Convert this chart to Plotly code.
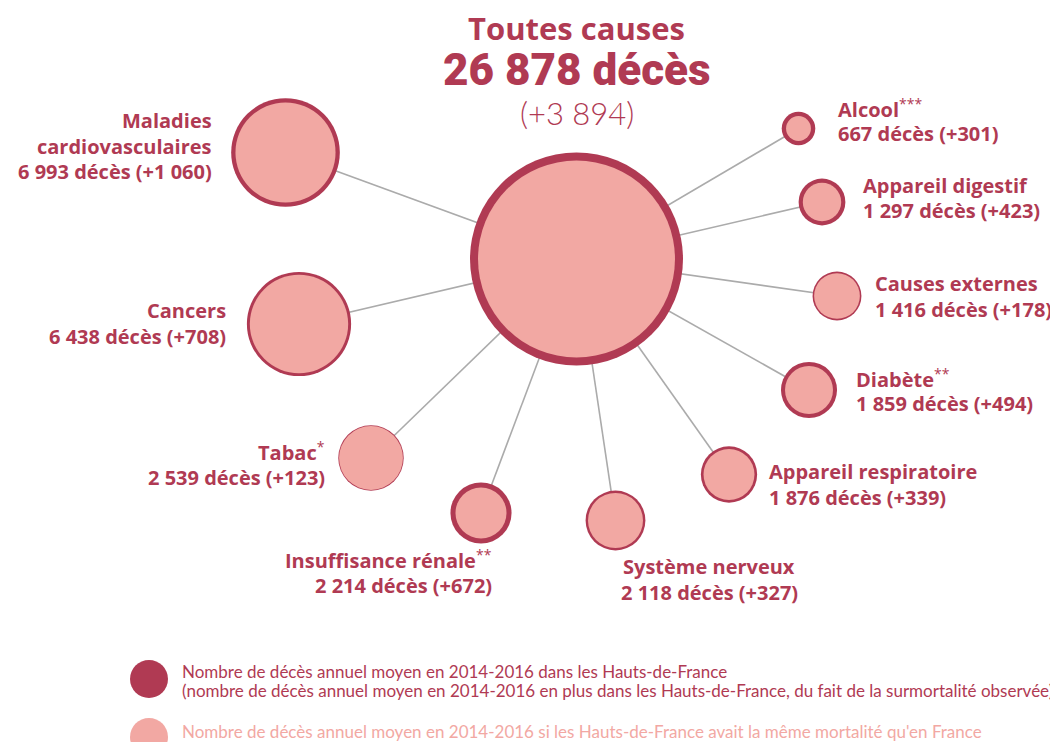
import plotly.graph_objects as go
import numpy as np

# ---------------- data ----------------
total_deces = 26878
total_surplus = 3894

categories = ["Maladies cardiovasculaires", "Cancers", "Tabac", "Insuffisance rénale",
              "Système nerveux", "Appareil respiratoire", "Diabète", "Causes externes",
              "Appareil digestif", "Alcool"]
deces = [6993, 6438, 2539, 2214, 2118, 1876, 1859, 1416, 1297, 667]
surplus = [1060, 708, 123, 672, 327, 339, 494, 178, 423, 301]
notes = ["", "", "*", "**", "", "", "**", "", "", "***"]

legend_texts = [
    "Nombre de décès annuel moyen en 2014-2016 dans les Hauts-de-France",
    "(nombre de décès annuel moyen en 2014-2016 en plus dans les Hauts-de-France, du fait de la surmortalité observée)",
    "Nombre de décès annuel moyen en 2014-2016 si les Hauts-de-France avait la même mortalité qu'en France",
]

# ---------------- layout (positions / styles) ----------------
W, H = 1058, 742      # browser window
OFF = 8               # default page body margin
DARK = "#B03A53"
LIGHT = "#F2A8A3"
LINE = "#ABABAB"
K = 106.5 / np.sqrt(total_deces)   # px radius per sqrt(death)

center_xy = (576.5, 259)
bubble_xy = [(285.5, 152.5), (299, 324), (371, 458), (481, 513), (615.5, 520.5),
             (729, 474.5), (809, 390), (837, 296), (822, 202), (798.5, 128.5)]
# label: x, list of line-center y, anchor, wrap name
label_pos = [
    (214, [120, 146, 171], "right", True),
    (228, [310, 336], "right", False),
    (327, [451, 477], "right", False),
    (494, [559, 585], "right", False),
    (709, [566, 592], "center", False),
    (767, [471, 497], "left", False),
    (854, [378, 403], "left", False),
    (873, [283, 309], "left", False),
    (861, [185, 210], "left", False),
    (836, [108, 133], "left", False),
]

LABEL_FONT = "Open Sans, Lato, sans-serif"
BIG_FONT = "Roboto, Open Sans, sans-serif"


def fmt(n):
    return f"{n:,}".replace(",", " ")


fig = go.Figure()

# connecting lines (under the bubbles)
for (bx, by) in bubble_xy:
    fig.add_trace(go.Scatter(x=[center_xy[0], bx], y=[center_xy[1], by], mode="lines",
                             line=dict(color=LINE, width=1.6), hoverinfo="skip"))

all_x = [center_xy[0]] + [p[0] for p in bubble_xy]
all_y = [center_xy[1]] + [p[1] for p in bubble_xy]
all_d = [total_deces] + deces
all_s = [total_surplus] + surplus
expected = [d - s for d, s in zip(all_d, all_s)]

# observed deaths (dark)
fig.add_trace(go.Scatter(
    x=all_x, y=all_y, mode="markers",
    marker=dict(size=[2 * K * np.sqrt(d) for d in all_d], color=DARK, line=dict(width=0), opacity=1),
    hoverinfo="skip"))
# expected deaths (light)
fig.add_trace(go.Scatter(
    x=all_x, y=all_y, mode="markers",
    marker=dict(size=[2 * K * np.sqrt(e) for e in expected], color=LIGHT, line=dict(width=0), opacity=1),
    hoverinfo="skip"))

# legend bubbles
fig.add_trace(go.Scatter(x=[149], y=[679], mode="markers",
                         marker=dict(size=38, color=DARK, line=dict(width=0), opacity=1),
                         hoverinfo="skip"))
fig.add_trace(go.Scatter(x=[149], y=[737], mode="markers",
                         marker=dict(size=38, color=LIGHT, line=dict(width=0), opacity=1),
                         hoverinfo="skip"))

annotations = []
# title
annotations.append(dict(x=576.5, y=28, text="<b>Toutes causes</b>", showarrow=False,
                        xanchor="center", yanchor="middle",
                        font=dict(family=LABEL_FONT, size=31, color=DARK)))
annotations.append(dict(x=576.5, y=70, text=fmt(total_deces) + " décès", showarrow=False,
                        xanchor="center", yanchor="middle",
                        font=dict(family=BIG_FONT, size=44, color=DARK, weight=900)))
annotations.append(dict(x=576.5, y=113, text="(+" + fmt(total_surplus) + ")", showarrow=False,
                        xanchor="center", yanchor="middle",
                        font=dict(family="Lato, sans-serif", size=31, color=DARK, weight=300)))

# category labels
for name, d, s, nt, (lx, ys, anc, wrap) in zip(categories, deces, surplus, notes, label_pos):
    sup = f"<sup>{nt}</sup>" if nt else ""
    if wrap:
        first, rest = name.split(" ", 1)
        lines = [f"<b>{first}</b>", f"<b>{rest}</b>{sup}"]
    else:
        lines = [f"<b>{name}</b>{sup}"]
    lines.append(f"<b>{fmt(d)} décès (+{fmt(s)})</b>")
    for t, y in zip(lines, ys):
        annotations.append(dict(x=lx, y=y, text=t, showarrow=False, xanchor=anc, yanchor="middle",
                                align=anc, font=dict(family=LABEL_FONT, size=20, color=DARK)))

# legend texts
for t, y, c in zip(legend_texts, [671, 690, 731], [DARK, DARK, LIGHT]):
    annotations.append(dict(x=180, y=y, text=t, showarrow=False, xanchor="left", yanchor="middle",
                            font=dict(family="Lato, sans-serif", size=17, color=c)))

fig.update_layout(
    width=W - OFF, height=H - OFF, margin=dict(l=0, r=0, t=0, b=0),
    paper_bgcolor="white", plot_bgcolor="white", showlegend=False,
    xaxis=dict(range=[OFF, W], visible=False, fixedrange=True),
    yaxis=dict(range=[H, OFF], visible=False, fixedrange=True),
    annotations=annotations,
)

fig.write_html("out.html")
